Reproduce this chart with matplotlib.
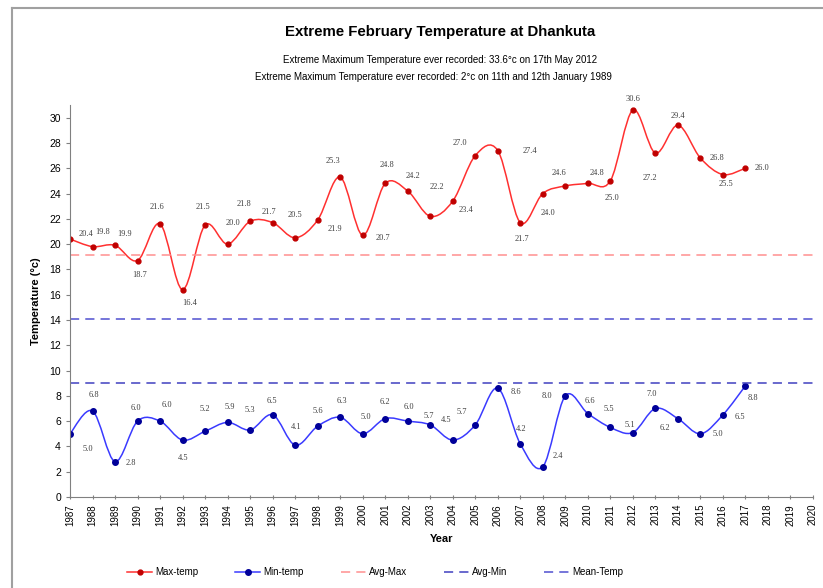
import numpy as np
import matplotlib
matplotlib.use('Agg')
import matplotlib.pyplot as plt
from matplotlib.path import Path
from matplotlib.patches import PathPatch
from matplotlib.lines import Line2D

plt.rcParams['font.family'] = ['Liberation Sans', 'DejaVu Sans']

years = list(range(1987, 2018))
max_temp = [20.4, 19.8, 19.9, 18.7, 21.6, 16.4, 21.5, 20.0, 21.8, 21.7,
            20.5, 21.9, 25.3, 20.7, 24.8, 24.2, 22.2, 23.4, 27.0, 27.4,
            21.7, 24.0, 24.6, 24.8, 25.0, 30.6, 27.2, 29.4, 26.8, 25.5, 26.0]
min_temp = [5.0, 6.8, 2.8, 6.0, 6.0, 4.5, 5.2, 5.9, 5.3, 6.5,
            4.1, 5.6, 6.3, 5.0, 6.2, 6.0, 5.7, 4.5, 5.7, 8.6,
            4.2, 2.4, 8.0, 6.6, 5.5, 5.1, 7.0, 6.2, 5.0, 6.5, 8.8]
avg_max = 19.1
avg_min = 9.0
mean_temp = 14.1

title = 'Extreme February Temperature at Dhankuta'
sub1 = 'Extreme Maximum Temperature ever recorded: 33.6°c on 17th May 2012'
sub2 = 'Extreme Maximum Temperature ever recorded: 2°c on 11th and 12th January 1989'

# label offsets in pixels (dx, dy up)
max_off = [(16, 5), (10, 15), (10, 11), (2, -14), (-3, 17), (7, -13), (-2, 18), (5, 21),
           (-6, 17), (-4, 11), (0, 23), (17, -9), (-7, 16), (20, -3), (2, 18), (5, 15),
           (7, 29), (13, -9), (-15, 13), (32, 0), (2, -16), (5, -19), (-6, 13), (9, 10),
           (2, -17), (0, 11), (-6, -25), (0, 9), (17, 0), (3, -9), (17, 0)]
min_off = [(18, -15), (1, 16), (16, -1), (-2, 13), (7, 16), (1, -18), (0, 22), (2, 15),
           (0, 20), (-1, 14), (1, 18), (0, 15), (2, 16), (3, 17), (0, 17), (1, 14),
           (-1, 9), (-7, 20), (-13, 13), (18, -4), (1, 15), (15, 11), (-18, 0), (2, 13),
           (-1, 18), (-3, 8), (-4, 14), (-13, -9), (17, 0), (17, -2), (7, -12)]


def smooth_patch(x, y, color, lw):
    # Excel-style smoothed line: cubic bezier segments through each point
    x = np.asarray(x, float)
    y = np.asarray(y, float)
    px = np.concatenate([[x[0]], x, [x[-1]]])
    py = np.concatenate([[y[0]], y, [y[-1]]])
    verts = [(x[0], y[0])]
    codes = [Path.MOVETO]
    for i in range(len(x) - 1):
        c1 = (x[i] + (px[i + 2] - px[i]) / 6, y[i] + (py[i + 2] - py[i]) / 6)
        c2 = (x[i + 1] - (px[i + 3] - px[i + 1]) / 6, y[i + 1] - (py[i + 3] - py[i + 1]) / 6)
        verts += [c1, c2, (x[i + 1], y[i + 1])]
        codes += [Path.CURVE4] * 3
    return PathPatch(Path(verts, codes), facecolor='none', edgecolor=color, lw=lw)


fig = plt.figure(figsize=(8.23, 5.88), dpi=100)
ax = fig.add_axes([70 / 823, 1 - 497 / 588, (813 - 70) / 823, (497 - 105) / 588])

ax.add_patch(smooth_patch(years, max_temp, '#ff3030', 1.1))
ax.add_patch(smooth_patch(years, min_temp, '#3a3aff', 1.1))
ax.plot(years, max_temp, ls='none', marker='o', ms=3.5, color='#c00000')
ax.plot(years, min_temp, ls='none', marker='o', ms=4, color='#000099')

ax.axhline(avg_max, color='#ff9090', ls=(0, (6, 4)), lw=1.1)
ax.axhline(avg_min, color='#4040c0', ls=(0, (6, 4)), lw=1.1)
ax.axhline(mean_temp, color='#5050d0', ls=(0, (6, 4)), lw=1.1)

for xv, yv, (dx, dy) in zip(years, max_temp, max_off):
    ax.annotate(f'{yv:.1f}', (xv, yv), xytext=(dx, dy), textcoords='offset pixels',
                ha='center', va='center', fontsize=6, family='Liberation Serif', color='#404040')
for xv, yv, (dx, dy) in zip(years, min_temp, min_off):
    ax.annotate(f'{yv:.1f}', (xv, yv), xytext=(dx, dy), textcoords='offset pixels',
                ha='center', va='center', fontsize=6, family='Liberation Serif', color='#404040')

ax.set_xlim(1987, 2020)
ax.set_ylim(0, 31)
ax.set_xticks(range(1987, 2021))
ax.set_xticklabels([str(v) for v in range(1987, 2021)], rotation=90, fontsize=7)
ax.set_yticks(range(0, 31, 2))
ax.tick_params(axis='y', labelsize=7.5, length=3, color='#808080')
ax.tick_params(axis='x', length=3, direction='inout', color='#808080')
for s in ['top', 'right']:
    ax.spines[s].set_visible(False)
for s in ['left', 'bottom']:
    ax.spines[s].set_color('#808080')

ax.set_xlabel('Year', fontsize=8, fontweight='bold', labelpad=6)
ax.set_ylabel('Temperature (°c)', fontsize=8, fontweight='bold', labelpad=6)

fig.text(0.535, 1 - 32 / 588, title, ha='center', va='center', fontsize=10.8, fontweight='bold')
fig.text(0.535, 1 - 60 / 588, sub1, ha='center', va='center', fontsize=7)
fig.text(0.527, 1 - 77 / 588, sub2, ha='center', va='center', fontsize=7)

handles = [
    Line2D([], [], color='#ff3030', marker='o', ms=3.5, mfc='#c00000', mec='#c00000', lw=1.1),
    Line2D([], [], color='#3a3aff', marker='o', ms=4, mfc='#000099', mec='#000099', lw=1.1),
    Line2D([], [], color='#ff9090', ls=(0, (6, 4)), lw=1.1),
    Line2D([], [], color='#4040c0', ls=(0, (6, 4)), lw=1.1),
    Line2D([], [], color='#5050d0', ls=(0, (6, 4)), lw=1.1),
]
fig.legend(handles, ['Max-temp', 'Min-temp', 'Avg-Max', 'Avg-Min', 'Mean-Temp'],
           loc='center', bbox_to_anchor=(0.456, 1 - 572 / 588), ncol=5, frameon=False,
           fontsize=7, columnspacing=3.8, handlelength=2.6, handletextpad=0.3)

fig.add_artist(Line2D([12 / 823, 12 / 823], [0, 1 - 8 / 588], color='#a0a0a0', lw=1.5))
fig.add_artist(Line2D([12 / 823, 1], [1 - 8 / 588, 1 - 8 / 588], color='#a0a0a0', lw=1.5))

fig.savefig('out.png', dpi=100)
